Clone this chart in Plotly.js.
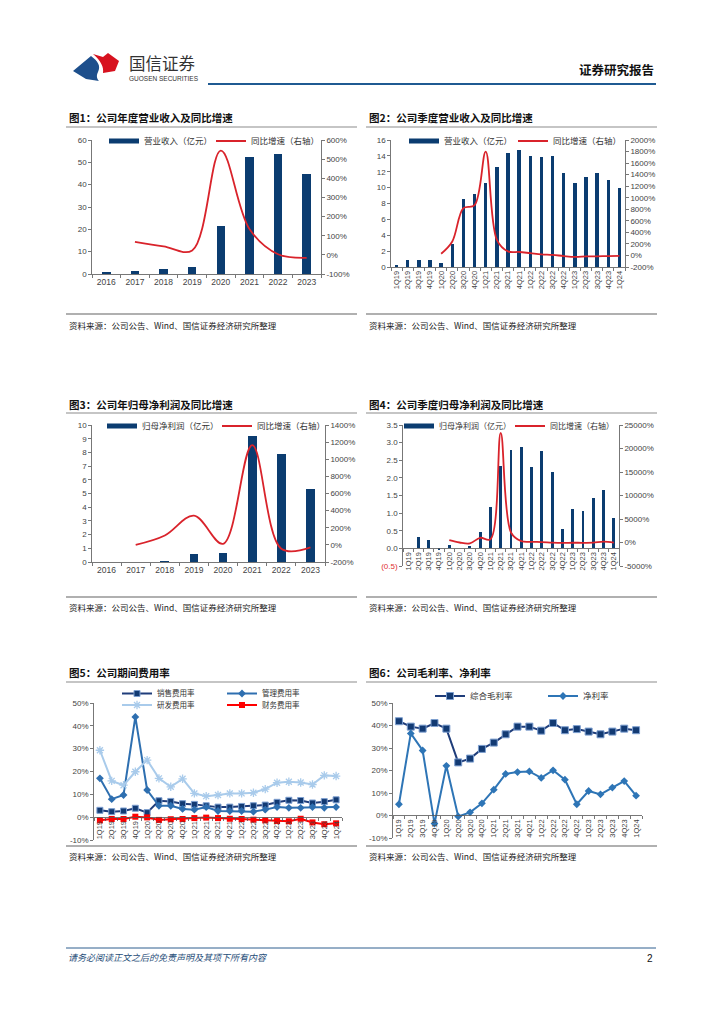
<!DOCTYPE html>
<html>
<head>
<meta charset="utf-8">
<script src="https://cdn.plot.ly/plotly-3.0.1.min.js"></script>
<style>
html,body{margin:0;padding:0;background:#fff;}
#page{width:724px;height:1024px;}
</style>
</head>
<body>
<div id="page"></div>
<script>
// ---------------- DATA ----------------
const years = ['2016','2017','2018','2019','2020','2021','2022','2023'];
const annualRevenue = [0.8, 1.3, 2.2, 3.0, 21.5, 52.3, 53.7, 45.0];
const annualRevenueYoY = [null, 68, 44, 23, 545, 135, 3, -16];

const quarters = ['1Q19','2Q19','3Q19','4Q19','1Q20','2Q20','3Q20','4Q20','1Q21','2Q21','3Q21','4Q21','1Q22','2Q22','3Q22','4Q22','1Q23','2Q23','3Q23','4Q23','1Q24'];
const quarterRevenue = [0.3, 0.9, 0.9, 0.9, 0.5, 2.9, 8.6, 9.2, 10.6, 12.6, 14.4, 14.7, 14.0, 13.8, 14.0, 11.8, 10.6, 11.4, 11.9, 11.0, 10.0];
const quarterRevenueYoY = [null, null, null, null, 30, 243, 820, 870, 1800, 270, 70, 60, 40, 20, 10, -10, -25, -17, -15, -10, -6];

const annualProfit = [0, 0, 0.08, 0.55, 0.68, 9.2, 7.9, 5.3];
const annualProfitYoY = [null, 0, 109, 342, 12, 1165, -45, -30];

const quarterProfit = [0.02, 0.33, 0.25, -0.05, 0.10, 0.01, 0.07, 0.47, 1.18, 2.33, 2.78, 2.88, 2.30, 2.77, 2.18, 0.55, 1.12, 1.05, 1.44, 1.67, 0.85];
const quarterProfitYoY = [null, null, null, null, 510, 0, -200, 1000, 700, 23300, 2130, 280, 140, 100, -20, -80, -50, -60, -30, 200, -30];

const sellingRate = [3.0, 2.4, 2.7, 3.9, 2.0, 7.2, 6.9, 5.9, 5.6, 5.0, 4.4, 4.4, 4.7, 5.0, 5.3, 6.5, 7.4, 7.3, 6.2, 6.8, 7.6];
const adminRate = [17.0, 7.9, 9.7, 43.9, 11.9, 5.0, 5.0, 3.6, 3.3, 4.4, 2.7, 2.7, 2.7, 2.4, 3.3, 4.4, 4.1, 4.1, 4.4, 4.1, 4.4];
const rdRate = [29.3, 15.9, 14.0, 19.9, 25.0, 17.0, 13.3, 16.8, 10.4, 9.2, 9.7, 10.4, 10.4, 10.7, 12.3, 15.1, 15.5, 15.2, 14.3, 18.3, 18.0];
const financeRate = [-1.4, -0.8, -0.8, 0.2, -0.1, -1.2, -0.9, -0.8, -0.4, -0.2, -0.4, -0.7, -0.8, -1.1, -1.4, -1.7, -1.8, -0.7, -2.3, -3.1, -2.7];

const grossMargin = [41.9, 39.5, 38.6, 41.1, 38.6, 23.6, 25.3, 29.6, 32.4, 36.1, 39.5, 39.5, 37.7, 41.1, 37.9, 38.4, 37.3, 36.1, 37.3, 38.6, 37.9];
const netMargin = [5.0, 36.5, 28.9, -3.6, 22.1, -0.4, 1.4, 5.4, 11.5, 18.5, 19.3, 19.6, 16.7, 20.1, 15.9, 5.0, 10.9, 9.4, 12.4, 15.3, 8.8];

// tick values
const c1Left = [0,10,20,30,40,50,60];
const c1Right = [-100,0,100,200,300,400,500,600];
const c2Left = [0,2,4,6,8,10,12,14,16];
const c2Right = [-200,0,200,400,600,800,1000,1200,1400,1600,1800,2000];
const c3Left = [0,1,2,3,4,5,6,7,8,9,10];
const c3Right = [-200,0,200,400,600,800,1000,1200,1400];
const c4Left = [-0.5,0,0.5,1,1.5,2,2.5,3,3.5];
const c4Right = [-5000,0,5000,10000,15000,20000,25000];
const pctTicks = [-10,0,10,20,30,40,50];

// text
const titles = ['图1：公司年度营业收入及同比增速','图2：公司季度营业收入及同比增速','图3：公司年归母净利润及同比增速','图4：公司季度归母净利润及同比增速','图5：公司期间费用率','图6：公司毛利率、净利率'];
const sourceText = '资料来源：公司公告、Wind、国信证券经济研究所整理';

// ---------------- HELPERS ----------------
const W = 724, H = 1024;
const px = x => x / W;
const py = y => 1 - y / H;
const pct = v => v + '%';
const CJK = 'Noto Sans CJK SC, Liberation Sans, sans-serif';
const NUM = 'Liberation Sans, Arial, sans-serif';
const NAVY = '#0b3c70';
const RED = '#d9232b';

function axisStyle(extra) {
  return Object.assign({
    showline: true, linecolor: '#555', linewidth: 0.8,
    ticks: 'outside', ticklen: 3, tickcolor: '#555', tickwidth: 0.8,
    tickfont: {size: 8, color: '#444', family: NUM},
    showgrid: false, zeroline: false, fixedrange: true
  }, extra);
}
function zeroPos(domTopPx, domBotPx, r0, r1) {
  const f = (0 - r0) / (r1 - r0);
  return py(domBotPx) + f * (py(domTopPx) - py(domBotPx));
}

// ---------------- TRACES ----------------
const traces = [];
function barPair(x, yv, yoy, xa, ya, ya2, barName, legendId, barW) {
  traces.push({type: 'bar', x: x, y: yv, xaxis: xa, yaxis: ya, width: barW,
    marker: {color: NAVY, line: {width: 0}}, showlegend: false, hoverinfo: 'skip'});
  traces.push({type: 'scatter', mode: 'lines', x: x, y: yv.map(() => null), xaxis: xa, yaxis: ya,
    name: barName, legend: legendId, line: {color: NAVY, width: 5}, hoverinfo: 'skip'});
  traces.push({type: 'scatter', mode: 'lines', x: x, y: yoy, xaxis: xa, yaxis: ya2,
    name: '同比增速（右轴）', legend: legendId, connectgaps: false,
    line: {color: RED, width: 1.8, shape: 'spline', smoothing: 1}, hoverinfo: 'skip'});
}
barPair(years, annualRevenue, annualRevenueYoY, 'x', 'y', 'y2', '营业收入（亿元）', 'legend', 0.3);
barPair(quarters, quarterRevenue, quarterRevenueYoY, 'x2', 'y3', 'y4', '营业收入（亿元）', 'legend2', 0.3);
barPair(years, annualProfit, annualProfitYoY, 'x3', 'y5', 'y6', '归母净利润（亿元）', 'legend3', 0.3);
barPair(quarters, quarterProfit, quarterProfitYoY, 'x4', 'y7', 'y8', '归母净利润（亿元）', 'legend4', 0.28);

// chart 5
traces.push({type:'scatter', mode:'lines+markers', x: quarters, y: sellingRate, xaxis:'x5', yaxis:'y9',
  name:'销售费用率', legend:'legend5', line:{color:'#1f3d7a', width:2},
  marker:{symbol:'square', size:6, color:'#123a73', line:{color:'#7d9fd0', width:1}}, hoverinfo:'skip'});
traces.push({type:'scatter', mode:'lines+markers', x: quarters, y: adminRate, xaxis:'x5', yaxis:'y9',
  name:'管理费用率', legend:'legend5', line:{color:'#2e6fb0', width:2},
  marker:{symbol:'diamond', size:6, color:'#2e6fb0'}, hoverinfo:'skip'});
traces.push({type:'scatter', mode:'lines+markers', x: quarters, y: rdRate, xaxis:'x5', yaxis:'y9',
  name:'研发费用率', legend:'legend6', line:{color:'#a9cbeb', width:2},
  marker:{symbol:'asterisk-open', size:7, color:'#a9cbeb', line:{color:'#a9cbeb', width:1.3}}, hoverinfo:'skip'});
traces.push({type:'scatter', mode:'lines+markers', x: quarters, y: financeRate, xaxis:'x5', yaxis:'y9',
  name:'财务费用率', legend:'legend6', line:{color:'#ff0000', width:2},
  marker:{symbol:'square', size:6, color:'#ff0000'}, hoverinfo:'skip'});

// chart 6
traces.push({type:'scatter', mode:'lines+markers', x: quarters, y: grossMargin, xaxis:'x6', yaxis:'y10',
  name:'综合毛利率', legend:'legend7', line:{color:'#1f3d7a', width:2},
  marker:{symbol:'square', size:7, color:'#123a73', line:{color:'#7d9fd0', width:1}}, hoverinfo:'skip'});
traces.push({type:'scatter', mode:'lines+markers', x: quarters, y: netMargin, xaxis:'x6', yaxis:'y10',
  name:'净利率', legend:'legend7', line:{color:'#2e75b6', width:2},
  marker:{symbol:'diamond', size:6, color:'#2e75b6'}, hoverinfo:'skip'});

// ---------------- LAYOUT ----------------
function legendAt(xPx, yPx, ew, fs) {
  return {orientation: 'h', x: px(xPx), y: py(yPx), xanchor: 'left', yanchor: 'middle',
    bgcolor: 'rgba(0,0,0,0)', borderwidth: 0, font: {size: fs || 8.5, color: '#333', family: CJK}, itemwidth: 30,
    entrywidth: ew, entrywidthmode: 'pixels', traceorder: 'normal', itemclick: false, itemdoubleclick: false};
}

const layout = {
  width: W, height: H, margin: {l: 0, r: 0, t: 0, b: 0},
  paper_bgcolor: '#fff', plot_bgcolor: 'rgba(0,0,0,0)',
  font: {family: CJK, color: '#333'},
  bargap: 0, hovermode: false,
  // chart 1
  xaxis: axisStyle({domain: [px(92), px(321)], anchor: 'y', type: 'category', range: [-0.5, 7.5],
    tickson: 'boundaries', tickfont: {size: 8.5, color: '#444', family: NUM}}),
  yaxis: axisStyle({domain: [py(274), py(140)], anchor: 'x', range: [0, 60], tickvals: c1Left, ticktext: c1Left.map(String)}),
  yaxis2: axisStyle({overlaying: 'y', anchor: 'x', side: 'right', range: [-100, 600], tickvals: c1Right, ticktext: c1Right.map(pct)}),
  // chart 2
  xaxis2: axisStyle({domain: [px(391), px(625)], anchor: 'y3', type: 'category', range: [-0.5, 20.5],
    tickson: 'boundaries', tickangle: -90, tickfont: {size: 7.5, color: '#444', family: NUM}}),
  yaxis3: axisStyle({domain: [py(267), py(140)], anchor: 'x2', range: [0, 16], tickvals: c2Left, ticktext: c2Left.map(String)}),
  yaxis4: axisStyle({overlaying: 'y3', anchor: 'x2', side: 'right', range: [-200, 2000], tickvals: c2Right, ticktext: c2Right.map(pct)}),
  // chart 3
  xaxis3: axisStyle({domain: [px(92), px(325)], anchor: 'y5', type: 'category', range: [-0.5, 7.5],
    tickson: 'boundaries', tickfont: {size: 8.5, color: '#444', family: NUM}}),
  yaxis5: axisStyle({domain: [py(562), py(425)], anchor: 'x3', range: [0, 10], tickvals: c3Left, ticktext: c3Left.map(String)}),
  yaxis6: axisStyle({overlaying: 'y5', anchor: 'x3', side: 'right', range: [-200, 1400], tickvals: c3Right, ticktext: c3Right.map(pct)}),
  // chart 4
  xaxis4: axisStyle({domain: [px(403), px(619)], anchor: 'free', position: zeroPos(425, 566, -0.5, 3.5),
    type: 'category', range: [-0.5, 20.5], tickson: 'boundaries', tickangle: -90,
    tickfont: {size: 7.5, color: '#444', family: NUM}}),
  yaxis7: axisStyle({domain: [py(566), py(425)], anchor: 'x4', range: [-0.5, 3.5], tickvals: c4Left,
    ticktext: c4Left.map(v => v < 0 ? '<span style="color:#e03030">(' + Math.abs(v).toFixed(1) + ')</span>' : v.toFixed(1))}),
  yaxis8: axisStyle({overlaying: 'y7', anchor: 'x4', side: 'right', range: [-5000, 25000], tickvals: c4Right, ticktext: c4Right.map(pct)}),
  // chart 5
  xaxis5: axisStyle({domain: [px(94), px(342)], anchor: 'free', position: zeroPos(703, 840, -10, 50),
    type: 'category', range: [-0.5, 20.5], tickson: 'boundaries', tickangle: -90,
    tickfont: {size: 7.5, color: '#444', family: NUM}}),
  yaxis9: axisStyle({domain: [py(840), py(703)], anchor: 'x5', range: [-10, 50], tickvals: pctTicks, ticktext: pctTicks.map(pct)}),
  // chart 6
  xaxis6: axisStyle({domain: [px(393), px(642)], anchor: 'free', position: zeroPos(703, 838, -10, 50),
    type: 'category', range: [-0.5, 20.5], tickson: 'boundaries', tickangle: -90,
    tickfont: {size: 7.5, color: '#444', family: NUM}}),
  yaxis10: axisStyle({domain: [py(838), py(703)], anchor: 'x6', range: [-10, 50], tickvals: pctTicks, ticktext: pctTicks.map(pct)}),
  // legends
  legend: legendAt(104, 141, 62),
  legend2: legendAt(404, 141, 64),
  legend3: legendAt(102, 426, 70),
  legend4: legendAt(399, 426, 66, 8),
  legend5: legendAt(117, 693.5, 60, 7.5),
  legend6: legendAt(117, 705, 60, 7.5),
  legend7: legendAt(430, 696, 68),
  annotations: [],
  shapes: []
};

// titles / lines / sources
const panels = [
  {x: 66, x2: 357, ty: 117, tl: 127, sl: 314, sy: 325},
  {x: 366, x2: 657, ty: 117, tl: 127, sl: 314, sy: 325},
  {x: 66, x2: 357, ty: 404, tl: 413, sl: 597, sy: 607},
  {x: 366, x2: 657, ty: 404, tl: 413, sl: 597, sy: 607},
  {x: 66, x2: 357, ty: 672, tl: 682, sl: 846, sy: 856},
  {x: 366, x2: 657, ty: 672, tl: 682, sl: 846, sy: 856}
];
panels.forEach((p, i) => {
  layout.annotations.push({xref: 'paper', yref: 'paper', x: px(p.x + 1), y: py(p.ty), xanchor: 'left', yanchor: 'middle',
    text: '<b>' + titles[i] + '</b>', showarrow: false, font: {size: 10.5, color: '#111', family: CJK}});
  layout.annotations.push({xref: 'paper', yref: 'paper', x: px(p.x + 1), y: py(p.sy), xanchor: 'left', yanchor: 'middle',
    text: sourceText, showarrow: false, font: {size: 8.5, color: '#222', family: CJK}});
  layout.shapes.push({type: 'line', xref: 'paper', yref: 'paper', x0: px(p.x), x1: px(p.x2), y0: py(p.tl), y1: py(p.tl),
    line: {color: '#8c8c8c', width: 1.2}});
  layout.shapes.push({type: 'line', xref: 'paper', yref: 'paper', x0: px(p.x), x1: px(p.x2), y0: py(p.sl), y1: py(p.sl),
    line: {color: '#b0b0b0', width: 1.8}});
});

// header
layout.annotations.push({xref:'paper', yref:'paper', x: px(127), y: py(63), xanchor:'left', yanchor:'middle',
  text:'国信证券', showarrow:false, font:{size:16.5, color:'#333', family: CJK}});
layout.annotations.push({xref:'paper', yref:'paper', x: px(127), y: py(78), xanchor:'left', yanchor:'middle',
  text:'GUOSEN SECURITIES', showarrow:false, font:{size:6.5, color:'#333', family: NUM}});
layout.annotations.push({xref:'paper', yref:'paper', x: px(656), y: py(69), xanchor:'right', yanchor:'middle',
  text:'<b>证券研究报告</b>', showarrow:false, font:{size:12.5, color:'#111', family: CJK}});
layout.shapes.push({type:'line', xref:'paper', yref:'paper', x0: px(208), x1: px(656), y0: py(84), y1: py(84),
  line:{color:'#1f5a92', width:2}});

// logo
function pathPx(cmds) {
  return cmds.map(c => c[0] + (c.length > 1 ? c.slice(1).map((v, k) => k % 2 === 0 ? px(v) : py(v)).join(',') : '')).join(' ');
}
layout.shapes.push({type:'path', xref:'paper', yref:'paper', fillcolor:'#1d4f8c', line:{width:0},
  path: pathPx([['M',73,71],['L',91,56],['C',98,61,101,66,98,72],['C',96,76,97,79,99,81],['L',86,79],['Z']])});
layout.shapes.push({type:'path', xref:'paper', yref:'paper', fillcolor:'#d7121f', line:{width:0},
  path: pathPx([['M',93,54],['L',103,57],['L',108,53],['L',119,61],['L',115,71],['L',103,73],['C',104,67,101,61,93,54],['Z']])});

// footer
layout.shapes.push({type:'line', xref:'paper', yref:'paper', x0: px(66), x1: px(656), y0: py(948), y1: py(948),
  line:{color:'#2e5f8f', width:1}});
layout.annotations.push({xref:'paper', yref:'paper', x: px(66), y: py(957), xanchor:'left', yanchor:'middle',
  text:'<i>请务必阅读正文之后的免责声明及其项下所有内容</i>', showarrow:false, font:{size:9, color:'#1f4e79', family: CJK}});
layout.annotations.push({xref:'paper', yref:'paper', x: px(655), y: py(958), xanchor:'right', yanchor:'middle',
  text:'2', showarrow:false, font:{size:10, color:'#111', family: NUM}});

Plotly.newPlot('page', traces, layout, {staticPlot: true, displayModeBar: false});
</script>
</body>
</html>
